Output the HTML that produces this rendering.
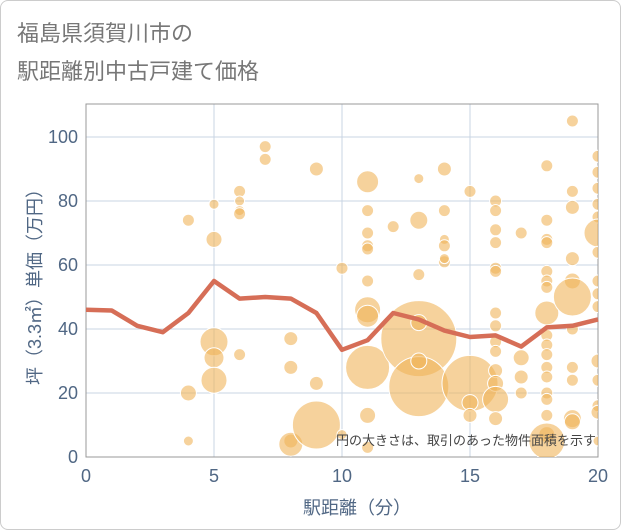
<!DOCTYPE html>
<html><head><meta charset="utf-8">
<style>
body{margin:0;background:#fff;font-family:"Liberation Sans","Noto Sans CJK JP",sans-serif;}
#wrap{position:relative;width:619px;height:528px;border:1px solid #ccc;border-radius:8px;overflow:hidden;}
#title{position:absolute;left:16px;top:14px;font-size:22px;line-height:38px;color:#777;}
</style></head>
<body>
<div id="wrap">
<div id="title">福島県須賀川市の<br>駅距離別中古戸建て価格</div>
<svg id="chart" width="619" height="528" style="position:absolute;left:0;top:0"></svg>
</div>
<script>
const xTicks=[0,5,10,15,20];
const yTicks=[0,20,40,60,80,100];
const lineX=[0,1,2,3,4,5,6,7,8,9,10,11,12,13,14,15,16,17,18,19,20];
const lineY=[46,45.8,41,39,45,55,49.5,50,49.5,45,33.5,36.5,45,43,39.5,37.5,38,34.5,40.5,41,43];
const bubX=[4,4,4,5,5,5,5,5,6,6,6,6,6,7,7,8,8,8,8,9,9,9,10,10,11,11,11,11,11,11,11,11,11,11,11,12,13,13,13,13,13,13,13,14,14,14,14,14,14,15,15,15,15,16,16,16,16,16,16,16,16,16,16,16,16,16,16,17,17,17,17,18,18,18,18,18,18,18,18,18,18,18,18,18,18,18,18,18,18,19,19,19,19,19,19,19,19,19,19,19,20,20,20,20,20,20,20,20,20,20,20,20,20,20,20];
const bubY=[74,20,5,79,68,36,31,24,83,80,77,76,32,97,93,37,28,5,4,90,23,10,59,7,86,77,70,66,65,55,46,44,28,13,3,72,87,74,57,37,42,22,30,90,77,68,66,61,62,83,23,17,13,80,77,71,67,59,58,45,41,36,33,27,23,18,12,70,31,25,20,91,74,68,67,58,55,53,45,38,35,32,28,25,20,18,13,7,5,105,83,78,62,55,50,40,28,24,12,11,94,89,84,79,75,70,64,55,51,47,30,24,16,14,5];
const bubArea=[36,64,25,25,64,196,100,169,36,25,25,36,36,36,36,49,49,49,144,49,49,576,36,25,121,36,36,36,36,36,169,121,484,64,36,36,25,81,36,1444,64,900,64,49,36,25,36,36,25,36,784,64,49,36,36,36,36,36,36,36,36,36,36,49,64,169,49,36,64,49,36,36,36,36,36,36,36,36,144,36,36,36,36,36,36,36,36,64,324,36,36,49,49,64,361,36,36,36,81,64,36,36,36,36,36,196,36,36,36,36,49,36,36,49,25];
const NS="http://www.w3.org/2000/svg";
const svg=document.getElementById('chart');
const L=85,R=597,T=103,B=456;
const sx=v=>L+(v-0)/20*(R-L);
const sy=v=>B-(v/100)*320;
function el(t,a){const e=document.createElementNS(NS,t);for(const k in a)e.setAttribute(k,a[k]);svg.appendChild(e);return e;}
const clip=el('clipPath',{id:'pc'});
const cr=document.createElementNS(NS,'rect');cr.setAttribute('x',L);cr.setAttribute('y',T);cr.setAttribute('width',R-L);cr.setAttribute('height',B-T);clip.appendChild(cr);
yTicks.forEach(v=>{
 const g=el('line',{x1:L,x2:R,y1:sy(v),y2:sy(v),stroke:'#c8d4e3','stroke-width':1});
 
 
 const t=el('text',{x:L-8,y:sy(v)+6,'text-anchor':'end','font-size':18,fill:'#506784'});t.textContent=v;
 
 
});
xTicks.forEach(v=>{
 const g=el('line',{x1:sx(v),x2:sx(v),y1:T,y2:B,stroke:'#c8d4e3','stroke-width':1});
 
 
 const t=el('text',{x:sx(v),y:B+25,'text-anchor':'middle','font-size':18,fill:'#506784'});t.textContent=v;
 
 
});
const fr=el('rect',{x:L,y:T,width:R-L,height:B-T,fill:'none',stroke:'#999','stroke-width':1});


const bg=el('g',{'clip-path':'url(#pc)'});
for(let i=0;i<bubX.length;i++){
 const c=document.createElementNS(NS,'circle');
 c.setAttribute('cx',sx(bubX[i]));c.setAttribute('cy',sy(bubY[i]));c.setAttribute('r',Math.sqrt(bubArea[i]));
 c.setAttribute('fill','rgba(240,180,90,0.6)');c.setAttribute('stroke','#fff');c.setAttribute('stroke-width','1');
 
 
 bg.appendChild(c);
}
svg.appendChild(bg);
const pl=el('polyline',{points:lineX.map((x,i)=>sx(x)+','+sy(lineY[i])).join(' '),fill:'none',stroke:'#d66e57','stroke-width':4.5,'stroke-linejoin':'round'});


const note=el('text',{x:595,y:444,'text-anchor':'end','font-size':13,fill:'#444'});note.textContent='円の大きさは、取引のあった物件面積を示す';


const xt=el('text',{x:sx(10)+15,y:513,'text-anchor':'middle','font-size':18,fill:'#506784'});xt.textContent='駅距離（分）';


const yt=el('text',{x:0,y:0,'text-anchor':'middle','font-size':18,fill:'#506784',transform:'translate(40,'+((T+B)/2+2)+') rotate(-90)'});yt.textContent='坪（3.3㎡）単価（万円）';


</script>
</body></html>
